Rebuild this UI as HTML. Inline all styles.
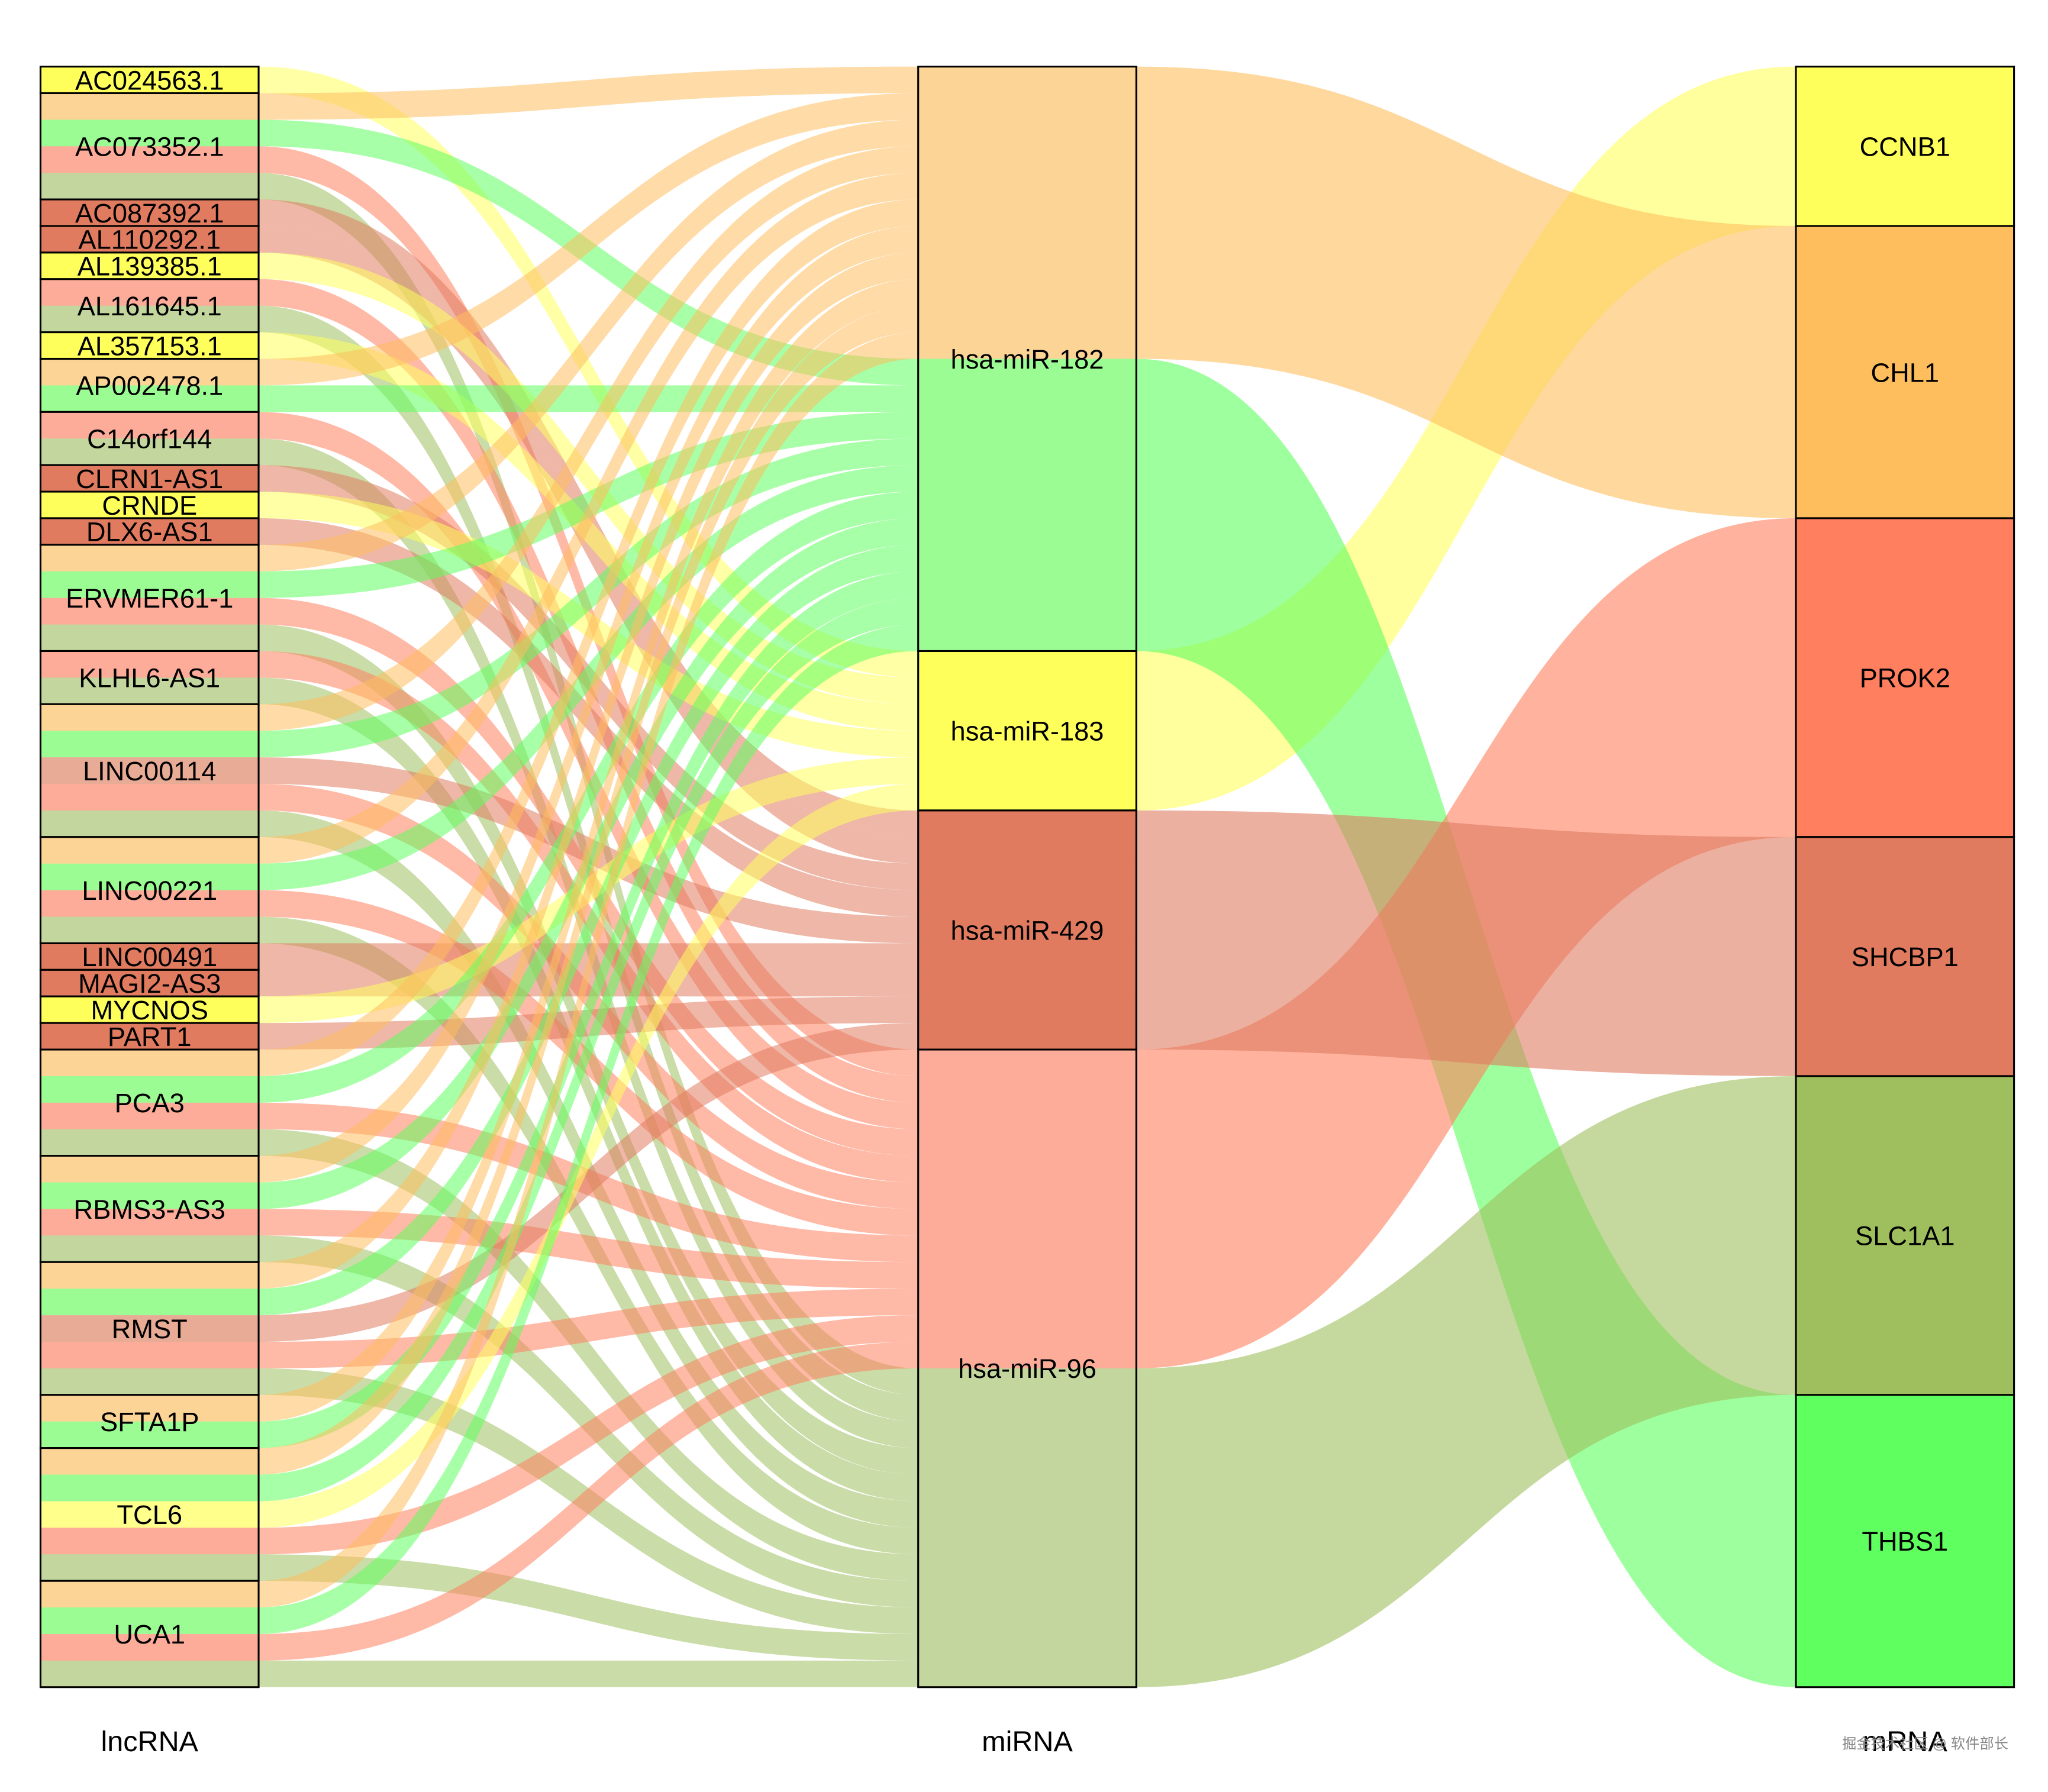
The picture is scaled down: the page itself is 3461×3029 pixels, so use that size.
<!DOCTYPE html>
<html><head><meta charset="utf-8"><style>
html,body{margin:0;padding:0;background:#fff;}
svg{display:block;}
text{font-family:"Liberation Sans",Arial,sans-serif;}
</style></head><body>
<svg id="chart" xmlns="http://www.w3.org/2000/svg" width="3461" height="3029" viewBox="0 0 1568 1372.3">
<rect x="0" y="0" width="1568" height="1372.3" fill="#fff"/>
<g id="flows"></g>
<g id="strata"></g>
<g id="axis-labels">
<text x="114.5" y="1341" font-size="22" text-anchor="middle">lncRNA</text>
<text x="786.5" y="1341" font-size="22" text-anchor="middle">miRNA</text>
<text x="1458.5" y="1341" font-size="22" text-anchor="middle">mRNA</text>
<text x="1474" y="1339" font-size="11" fill="#888" text-anchor="middle" font-family="'Liberation Sans','Noto Sans CJK SC',sans-serif">掘金技术社区 @ 软件部长</text>
</g>
</svg>
<script>
// lode data: one entry per lncRNA-miRNA-mRNA triple
const lncNames = ["AC024563.1","AC073352.1","AC087392.1","AL110292.1","AL139385.1","AL161645.1","AL357153.1","AP002478.1","C14orf144","CLRN1-AS1","CRNDE","DLX6-AS1","ERVMER61-1","KLHL6-AS1","LINC00114","LINC00221","LINC00491","MAGI2-AS3","MYCNOS","PART1","PCA3","RBMS3-AS3","RMST","SFTA1P","TCL6","UCA1"];
const mirNames = ["hsa-miR-182","hsa-miR-183","hsa-miR-429","hsa-miR-96"];
const mrnaNames = ["CCNB1","CHL1","PROK2","SHCBP1","SLC1A1","THBS1"];
// targets of each miRNA
const mirTargets = [["CHL1","THBS1"],["CCNB1"],["SHCBP1"],["PROK2","SLC1A1"]];
// miRNAs linked to each lncRNA
const lncMirs = [
 ["hsa-miR-183"],
 ["hsa-miR-182","hsa-miR-96"],
 ["hsa-miR-429"],
 ["hsa-miR-429"],
 ["hsa-miR-183"],
 ["hsa-miR-96"],
 ["hsa-miR-183"],
 ["hsa-miR-182"],
 ["hsa-miR-96"],
 ["hsa-miR-429"],
 ["hsa-miR-183"],
 ["hsa-miR-429"],
 ["hsa-miR-182","hsa-miR-96"],
 ["hsa-miR-96"],
 ["hsa-miR-182","hsa-miR-429","hsa-miR-96"],
 ["hsa-miR-182","hsa-miR-96"],
 ["hsa-miR-429"],
 ["hsa-miR-429"],
 ["hsa-miR-183"],
 ["hsa-miR-429"],
 ["hsa-miR-182","hsa-miR-96"],
 ["hsa-miR-182","hsa-miR-96"],
 ["hsa-miR-182","hsa-miR-429","hsa-miR-96"],
 ["hsa-miR-182"],
 ["hsa-miR-182","hsa-miR-183","hsa-miR-96"],
 ["hsa-miR-182","hsa-miR-96"]
];
const solidColors = {"CCNB1":"#FFFF5C","CHL1":"#FFBE5E","PROK2":"#FF7F5E","SHCBP1":"#E07B60","SLC1A1":"#9FBF5E","THBS1":"#5EFF5E"};
const lightColors = {"CCNB1":"#FFFF8C","CHL1":"#FCD496","PROK2":"#FCAC98","SHCBP1":"#E8AC96","SLC1A1":"#C2D69E","THBS1":"#9CFC94"};

const NS="http://www.w3.org/2000/svg";
const top0=51, bottom0=1292;
const axisX=[[31,198],[703,870],[1375,1542]];
const flowsG=document.getElementById('flows');
const strataG=document.getElementById('strata');

const lodes=[];
lncNames.forEach((l,li)=>{
  const ms=lncMirs[li].slice().sort((a,b)=>mirNames.indexOf(a)-mirNames.indexOf(b));
  ms.forEach(m=>{
    const mi=mirNames.indexOf(m);
    mirTargets[mi].slice().sort((a,b)=>mrnaNames.indexOf(a)-mrnaNames.indexOf(b)).forEach(r=>{
      lodes.push({li:li,mi:mi,ri:mrnaNames.indexOf(r),r:r});
    });
  });
});
const N=lodes.length;
const u=(bottom0-top0)/N;
function yPos(i){return top0+i*u;}

const ord1=lodes.map((d,i)=>i);
const ord2=lodes.map((d,i)=>i).sort((a,b)=>{const A=lodes[a],B=lodes[b];return (A.mi-B.mi)||(A.ri-B.ri)||(A.li-B.li)||(a-b);});
const ord3=lodes.map((d,i)=>i).sort((a,b)=>{const A=lodes[a],B=lodes[b];return (A.ri-B.ri)||(A.mi-B.mi)||(A.li-B.li)||(a-b);});
const p1=[],p2=[],p3=[];
ord1.forEach((k,i)=>p1[k]=i);ord2.forEach((k,i)=>p2[k]=i);ord3.forEach((k,i)=>p3[k]=i);

function flowPath(x0,y0,x1,y1,h){
  const xm=(x0+x1)/2;
  return `M${x0},${y0} C${xm},${y0} ${xm},${y1} ${x1},${y1} L${x1},${y1+h} C${xm},${y1+h} ${xm},${y0+h} ${x0},${y0+h} Z`;
}
// left flows
lodes.forEach((d,k)=>{
  const p=document.createElementNS(NS,'path');
  p.setAttribute('d',flowPath(axisX[0][1],yPos(p1[k]),axisX[1][0],yPos(p2[k]),u));
  p.setAttribute('fill',solidColors[d.r]);
  p.setAttribute('fill-opacity','0.55');
  
  
  flowsG.appendChild(p);
});
// right flows grouped by miRNA-mRNA pair
const pairs={};
lodes.forEach((d,k)=>{
  const key=d.mi+'-'+d.ri;
  if(!pairs[key]) pairs[key]={d:d,min2:Infinity,min3:Infinity,n:0};
  pairs[key].min2=Math.min(pairs[key].min2,p2[k]);
  pairs[key].min3=Math.min(pairs[key].min3,p3[k]);
  pairs[key].n++;
});
Object.values(pairs).forEach(g=>{
  const p=document.createElementNS(NS,'path');
  p.setAttribute('d',flowPath(axisX[1][1],yPos(g.min2),axisX[2][0],yPos(g.min3),u*g.n));
  p.setAttribute('fill',solidColors[g.d.r]);
  p.setAttribute('fill-opacity','0.6');
  
  
  flowsG.appendChild(p);
});

function drawStrata(ax,order,keyFn,names,prefix,fs){
  const groups=[];
  order.forEach((k,i)=>{
    const key=keyFn(lodes[k]);
    if(!groups.length||groups[groups.length-1].key!==key) groups.push({key:key,start:i,items:[]});
    groups[groups.length-1].items.push(k);
  });
  const [x0,x1]=axisX[ax];
  groups.forEach(g=>{
    const colors=new Set(g.items.map(k=>lodes[k].r));
    const single=colors.size===1;
    g.items.forEach((k,j)=>{
      const r=document.createElementNS(NS,'rect');
      r.setAttribute('x',x0);r.setAttribute('y',yPos(g.start+j));
      r.setAttribute('width',x1-x0);r.setAttribute('height',u+0.4);
      r.setAttribute('fill',single?solidColors[lodes[k].r]:lightColors[lodes[k].r]);
      
      
      strataG.appendChild(r);
    });
    const b=document.createElementNS(NS,'rect');
    b.setAttribute('x',x0);b.setAttribute('y',yPos(g.start));
    b.setAttribute('width',x1-x0);b.setAttribute('height',u*g.items.length);
    b.setAttribute('fill','none');b.setAttribute('stroke','#000');b.setAttribute('stroke-width','1.4');
    
    
    strataG.appendChild(b);
    const t=document.createElementNS(NS,'text');
    t.setAttribute('x',(x0+x1)/2);
    t.setAttribute('y',yPos(g.start)+u*g.items.length/2+fs*0.36);
    t.setAttribute('font-size',fs);t.setAttribute('text-anchor','middle');
    t.textContent=names[g.key];
    
    
    strataG.appendChild(t);
  });
}
drawStrata(0,ord1,d=>d.li,lncNames,'lncrna',20.5);
drawStrata(1,ord2,d=>d.mi,mirNames,'mirna',20.5);
drawStrata(2,ord3,d=>d.ri,mrnaNames,'mrna',20.5);
</script>
</body></html>
